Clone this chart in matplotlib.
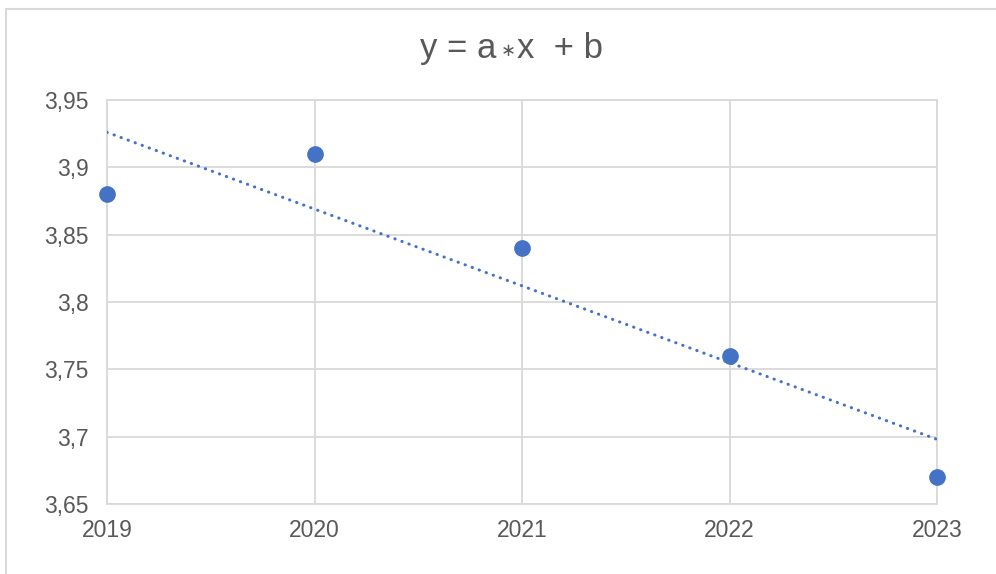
import numpy as np
import matplotlib.pyplot as plt
from matplotlib.patches import Rectangle

plt.rcParams['font.family'] = ['Liberation Sans', 'DejaVu Sans']

years = [2019, 2020, 2021, 2022, 2023]
values = [3.88, 3.91, 3.84, 3.76, 3.67]
yticks = [3.65, 3.7, 3.75, 3.8, 3.85, 3.9, 3.95]
ytick_labels = ['3,65', '3,7', '3,75', '3,8', '3,85', '3,9', '3,95']

blue = '#4472C4'
grid = '#D9D9D9'
txt = '#595959'

fig = plt.figure(figsize=(9.96, 5.74), dpi=100)
ax = fig.add_axes([107/996, 1 - 504/574, (937 - 107)/996, (504 - 100)/574])

# outer chart border (cropped on right and bottom)
fig.patches.append(Rectangle((6/996, -0.05), 1.1, 1.05 - 9/574, transform=fig.transFigure,
                             fill=False, edgecolor='#D9D9D9', lw=1.5))

# linear trendline
k, b0 = np.polyfit(years, values, 1)
xs = np.array([years[0], years[-1]])
ax.plot(xs, k * xs + b0, ls=(0, (0.1, 2.35)), color=blue, lw=2.2, dash_capstyle='round', zorder=3)
ax.plot(years, values, 'o', color=blue, ms=11, zorder=4, clip_on=False)

ax.set_xlim(years[0], years[-1])
ax.set_ylim(3.65, 3.95)
ax.set_xticks(years)
ax.set_yticks(yticks)
ax.set_yticklabels(ytick_labels)
ax.grid(True, color=grid, lw=1.3)
ax.set_axisbelow(True)
for s in ax.spines.values():
    s.set_color(grid)
    s.set_linewidth(1.3)
ax.tick_params(length=0, labelsize=16.5, colors=txt)
ax.tick_params(axis='y', pad=13)
ax.tick_params(axis='x', pad=11)

# title in three pieces so the multiplication star stays small
base = 1 - 58/574
fig.text(496/996, base, 'y = a', ha='right', va='baseline', fontsize=25, color=txt)
fig.text(508/996, 1 - 52/574, '\u2217', ha='center', va='center', fontsize=13, color=txt)
fig.text(517/996, base, 'x  + b', ha='left', va='baseline', fontsize=25, color=txt)

plt.savefig('out.png', dpi=100)
